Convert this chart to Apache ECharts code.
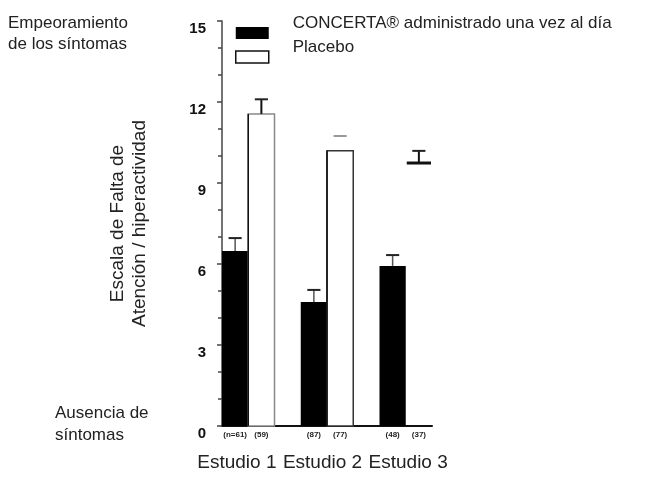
<!DOCTYPE html>
<html>
<head>
<meta charset="utf-8">
<script src="https://cdn.jsdelivr.net/npm/echarts@6/dist/echarts.min.js"></script>
<style>
  html, body { margin: 0; padding: 0; background: #fff; }
  #chart { width: 660px; height: 488px; }
</style>
</head>
<body>
<div id="chart"></div>
<script>
// datos
var studies = ['Estudio 1', 'Estudio 2', 'Estudio 3'];
var concerta = [6.48, 4.59, 5.93];
var concertaErr = [6.96, 5.04, 6.33];
var placebo = [11.56, 10.19, 9.74];
var placeboErr = [12.1, 10.74, 10.19];
var concertaN = ['(n=61)', '(87)', '(48)'];
var placeboN = ['(59)', '(77)', '(37)'];
var yTicks = [0, 3, 6, 9, 12, 15];

var FONT = '"Liberation Sans", Arial, sans-serif';
var NAME_CONCERTA = 'CONCERTA® administrado una vez al día';
var NAME_PLACEBO = 'Placebo';

// cada grupo ocupa 3 huecos: barra negra, barra blanca, espacio
function makeRender(slotOffset, isPlacebo, labels) {
  return function (params, api) {
    var i = api.value(0);
    var slot = i * 3 + slotOffset;
    var base = api.coord([slot, 0]);
    var top = api.coord([slot + 1, api.value(1)]);
    var errTop = api.coord([slot + 0.5, api.value(2)]);
    var cap = api.size([0.25, 0])[0];
    var cx = errTop[0];
    var children = [];

    if (!isPlacebo) {
      children.push({
        type: 'rect',
        shape: { x: base[0], y: top[1], width: top[0] - base[0], height: base[1] - top[1] },
        style: { fill: '#000' }
      });
    } else if (i < 2) {
      children.push({
        type: 'rect',
        shape: { x: base[0], y: top[1], width: top[0] - base[0], height: base[1] - top[1] },
        style: { fill: '#fff', stroke: i === 0 ? '#888' : '#333', lineWidth: 1.5 }
      });
      children.push({
        type: 'line',
        shape: { x1: base[0], y1: top[1], x2: base[0], y2: base[1] },
        style: { stroke: '#111', lineWidth: 1.5 }
      });
    } else {
      children.push({
        type: 'line',
        shape: { x1: base[0] + 1, y1: top[1], x2: top[0] - 1, y2: top[1] },
        style: { stroke: '#111', lineWidth: 3 }
      });
    }

    // barra de error
    if (!(isPlacebo && i === 1)) {
      children.push({
        type: 'line',
        shape: { x1: cx, y1: top[1], x2: cx, y2: errTop[1] },
        style: { stroke: isPlacebo ? '#111' : '#555', lineWidth: isPlacebo ? 2 : 1.5 }
      });
    }
    children.push({
      type: 'line',
      shape: { x1: cx - cap, y1: errTop[1], x2: cx + cap, y2: errTop[1] },
      style: { stroke: isPlacebo && i === 1 ? '#999' : '#222', lineWidth: 2 }
    });

    // tamaño de muestra bajo cada barra
    children.push({
      type: 'text',
      style: {
        text: labels[i], x: cx, y: base[1] + 9,
        align: 'center', verticalAlign: 'middle',
        font: 'bold 8px ' + FONT, fill: '#222'
      }
    });

    return { type: 'group', children: children };
  };
}

var chart = echarts.init(document.getElementById('chart'));
chart.setOption({
  animation: false,
  legend: {
    orient: 'vertical',
    left: 235,
    top: 13,
    padding: 0,
    itemWidth: 33,
    itemHeight: 12,
    itemGap: -16,
    selectedMode: false,
    // segunda línea vacía para que el texto quede por encima del icono
    formatter: function (name) { return name + '\n '; },
    textStyle: { fontSize: 17, lineHeight: 20, color: '#222', fontFamily: FONT, padding: [0, 0, 0, 19] },
    data: [
      { name: NAME_CONCERTA, icon: 'rect', itemStyle: { color: '#000' } },
      { name: NAME_PLACEBO, icon: 'rect', itemStyle: { color: '#fff', borderColor: '#111', borderWidth: 1.5 } }
    ]
  },
  grid: [
    { left: 222, right: 228, top: 21, bottom: 62 },
    { left: 194, right: 209, top: 21, bottom: 62 }
  ],
  xAxis: [
    {
      gridIndex: 0, type: 'value', min: 0, max: 8,
      axisLine: { show: true, onZero: false, lineStyle: { color: '#111', width: 2 } },
      axisTick: { show: false }, axisLabel: { show: false }, splitLine: { show: false }
    },
    {
      gridIndex: 1, type: 'category', data: studies,
      axisLine: { show: false }, axisTick: { show: false }, splitLine: { show: false },
      axisLabel: { interval: 0, fontSize: 19, color: '#222', fontFamily: FONT, margin: 27 }
    }
  ],
  yAxis: [
    {
      gridIndex: 0, type: 'value',
      min: yTicks[0], max: yTicks[yTicks.length - 1], interval: yTicks[1] - yTicks[0],
      axisLine: { show: true, lineStyle: { color: '#444', width: 1.5 } },
      axisTick: { show: true, length: 5, lineStyle: { color: '#444', width: 1.5 } },
      minorTick: { show: true, splitNumber: 3, length: 4, lineStyle: { color: '#444', width: 1.5 } },
      splitLine: { show: false },
      axisLabel: {
        fontFamily: FONT, fontWeight: 'bold', fontSize: 15, color: '#111',
        margin: 16, verticalAlign: 'top'
      },
      name: 'Escala de Falta de\nAtención / hiperactividad',
      nameLocation: 'middle',
      nameGap: 71,
      nameTextStyle: { fontSize: 19, lineHeight: 22, color: '#222', fontFamily: FONT }
    },
    { gridIndex: 1, type: 'value', show: false, min: 0, max: 15 }
  ],
  graphic: [
    {
      type: 'text', left: 8, top: 13,
      style: { text: 'Empeoramiento\nde los síntomas', font: '17px ' + FONT, lineHeight: 21, fill: '#222' }
    },
    {
      type: 'text', left: 55, top: 402,
      style: { text: 'Ausencia de\nsíntomas', font: '17px ' + FONT, lineHeight: 22, fill: '#222' }
    }
  ],
  series: [
    {
      name: NAME_CONCERTA, type: 'custom', xAxisIndex: 0, yAxisIndex: 0,
      renderItem: makeRender(0, false, concertaN),
      encode: { x: 0, y: [1, 2] },
      data: concerta.map(function (v, i) { return [i, v, concertaErr[i]]; })
    },
    {
      name: NAME_PLACEBO, type: 'custom', xAxisIndex: 0, yAxisIndex: 0,
      renderItem: makeRender(1, true, placeboN),
      encode: { x: 0, y: [1, 2] },
      data: placebo.map(function (v, i) { return [i, v, placeboErr[i]]; })
    }
  ]
});
</script>
</body>
</html>
